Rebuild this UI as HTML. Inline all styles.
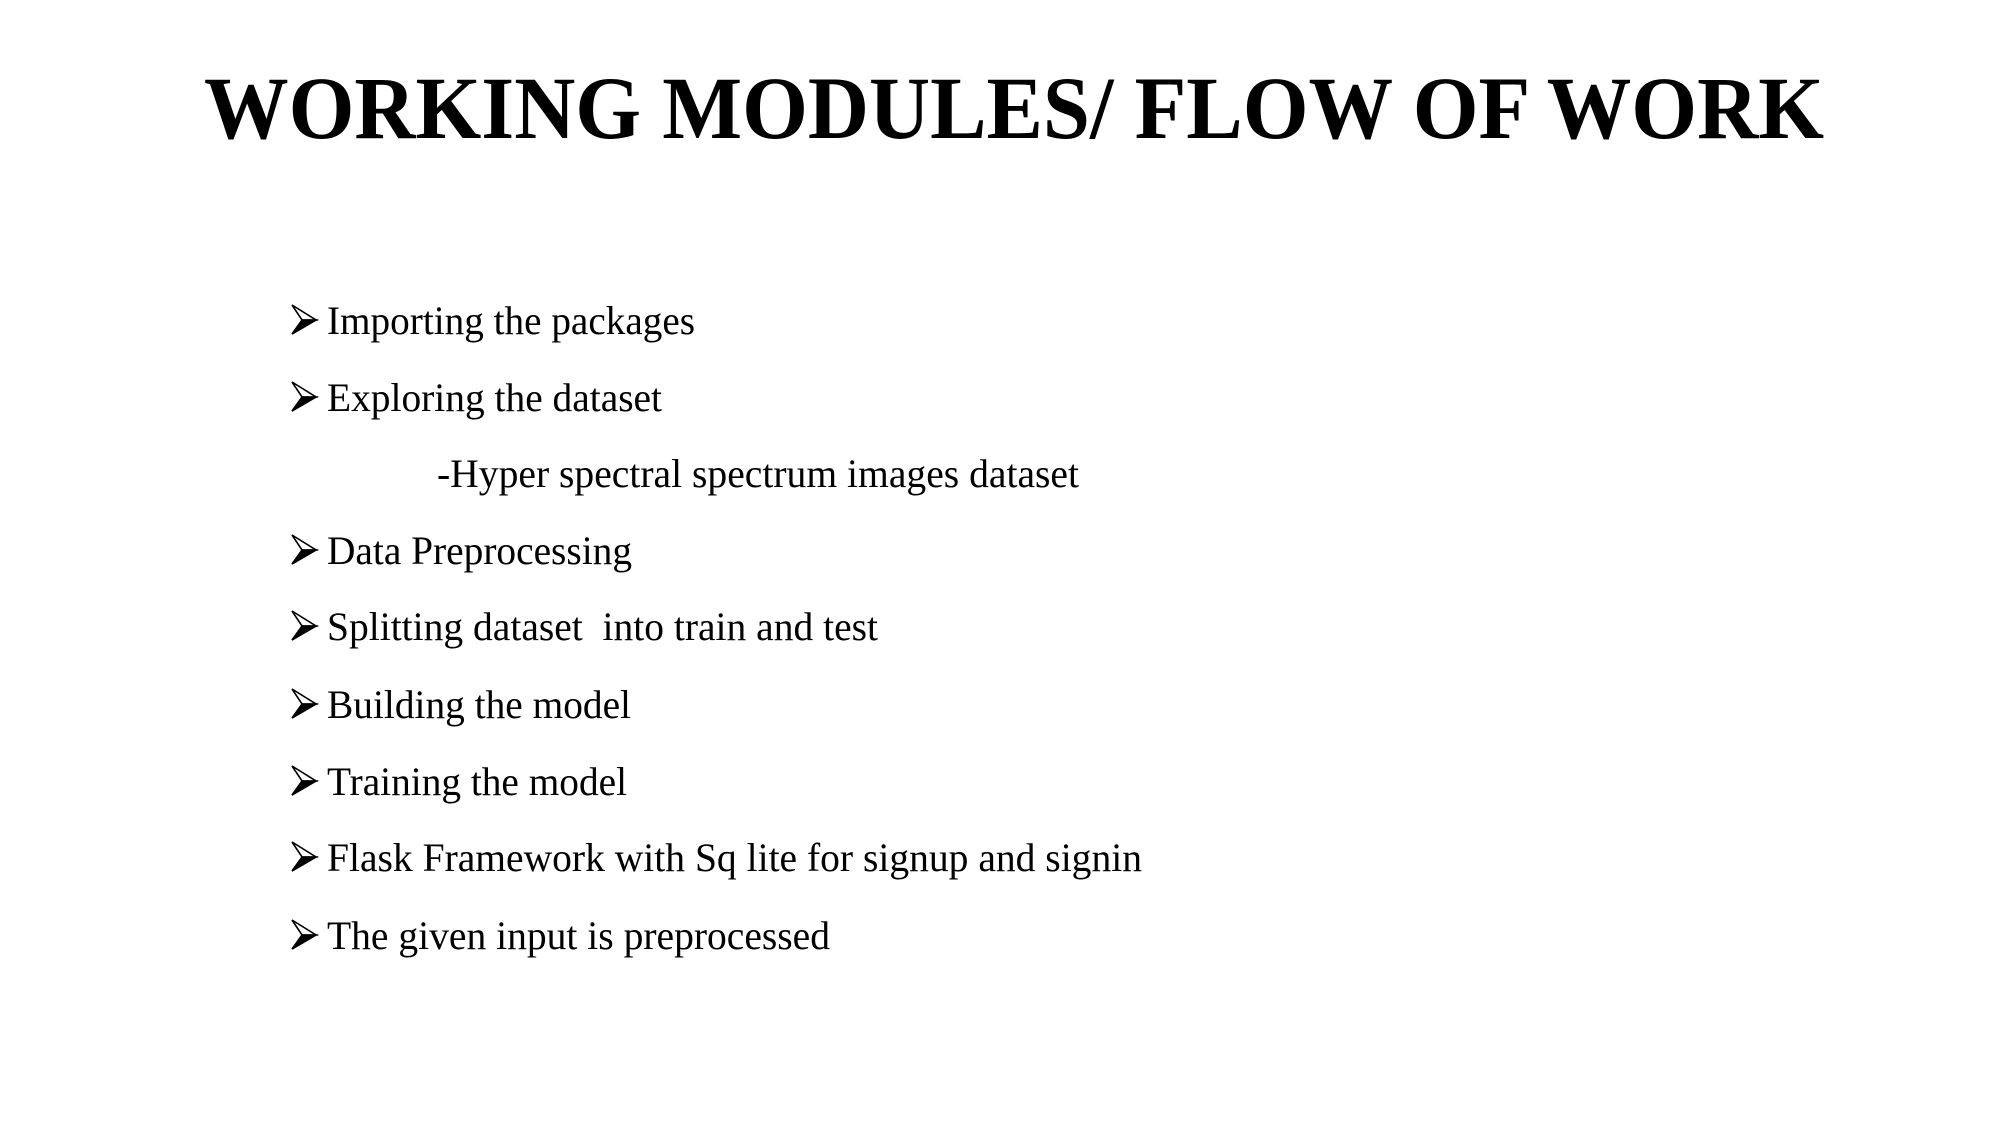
<!DOCTYPE html>
<html><head><meta charset="utf-8"><style>
html,body{margin:0;padding:0;background:#fff;}
svg{display:block}
text{font-family:"Liberation Serif",serif;fill:#000}
.b{font-size:40px}
</style></head><body>
<svg width="2000" height="1125" viewBox="0 0 2000 1125">
<defs>
<g id="ar">
<path d="M0,-29 L24,-14 L10,-14 Z" fill="#fff" stroke="#000" stroke-width="1.6" stroke-linejoin="miter"/>
<path d="M24,-14 L0,0 L10,-14 Z" fill="#000" stroke="#000" stroke-width="1.6"/>
</g>
</defs>
<text x="204" y="138" font-size="89" font-weight="bold" textLength="1620" lengthAdjust="spacingAndGlyphs">WORKING MODULES/ FLOW OF WORK</text>
<use href="#ar" x="292" y="334"/>
<text class="b" x="327" y="334" textLength="368" lengthAdjust="spacingAndGlyphs">Importing the packages</text>
<use href="#ar" x="292" y="411"/>
<text class="b" x="327" y="411" textLength="335" lengthAdjust="spacingAndGlyphs">Exploring the dataset</text>
<text class="b" x="437" y="487" textLength="642" lengthAdjust="spacingAndGlyphs">-Hyper spectral spectrum images dataset</text>
<use href="#ar" x="292" y="564"/>
<text class="b" x="327" y="564" textLength="305" lengthAdjust="spacingAndGlyphs">Data Preprocessing</text>
<use href="#ar" x="292" y="640"/>
<text class="b" x="327" y="640" textLength="551" lengthAdjust="spacingAndGlyphs" xml:space="preserve">Splitting dataset  into train and test</text>
<use href="#ar" x="292" y="718"/>
<text class="b" x="327" y="718" textLength="304" lengthAdjust="spacingAndGlyphs">Building the model</text>
<use href="#ar" x="292" y="795"/>
<text class="b" x="327" y="795" textLength="300" lengthAdjust="spacingAndGlyphs">Training the model</text>
<use href="#ar" x="292" y="871"/>
<text class="b" x="327" y="871" textLength="815" lengthAdjust="spacingAndGlyphs">Flask Framework with Sq lite for signup and signin</text>
<use href="#ar" x="292" y="949"/>
<text class="b" x="327" y="949" textLength="503" lengthAdjust="spacingAndGlyphs">The given input is preprocessed</text>
</svg>
</body></html>
